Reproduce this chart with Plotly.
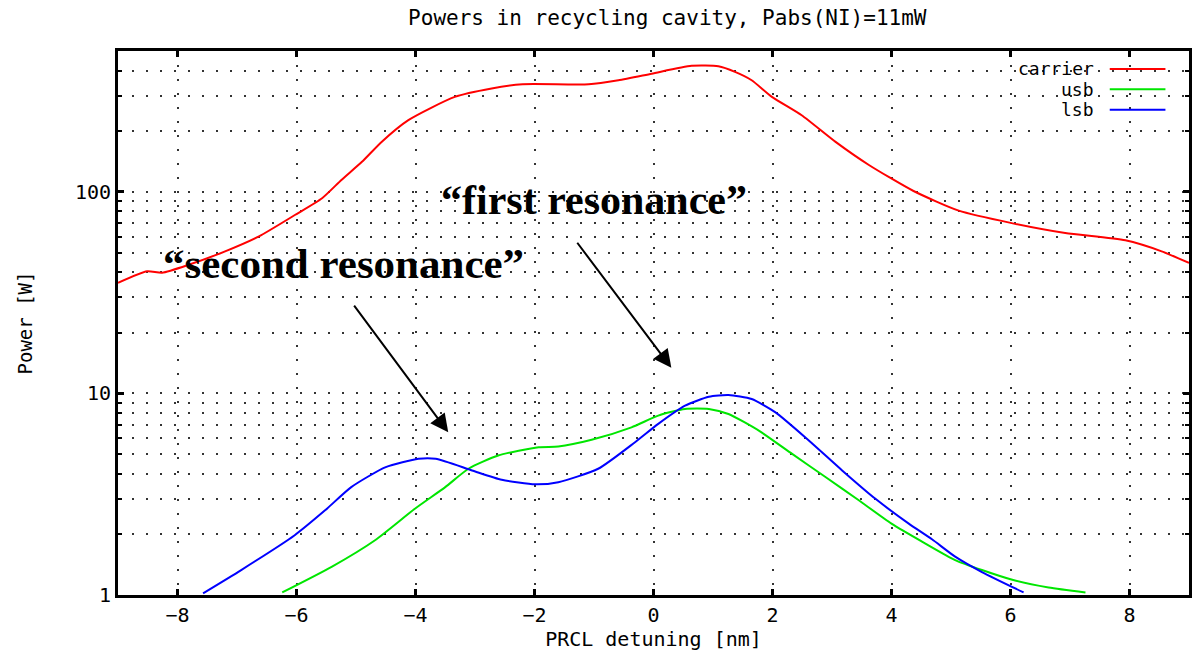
import math
import plotly.graph_objects as go

# PRCL detuning [nm] and circulating power [W] for each field
carrier_x = [-9.0, -8.51, -8.26, -7.8, -7.2, -6.63, -6.02, -5.57, -5.24, -4.9, -4.57, -4.12,
             -3.34, -2.72, -2.2, -1.09, -0.59, -0.03, 0.64, 1.09, 1.37, 1.65, 1.99, 2.49,
             3.06, 3.62, 4.37, 5.13, 6.02, 6.92, 7.93, 8.54, 9.0]
carrier_y = [35.4, 40.4, 39.7, 43.6, 50.7, 60.2, 77, 93, 115, 141, 177, 227,
             296, 326, 342, 342, 358, 386, 422, 420, 394, 358, 296, 240,
             177, 136, 101, 80.7, 70, 62.5, 57.5, 50.7, 44.4]

usb_x = [-6.24, -5.41, -4.68, -4.01, -3.5, -3.11, -2.61, -1.93, -1.6, -1.04, -0.37, 0.08,
         0.53, 0.93, 1.26, 1.77, 2.33, 2.89, 3.45, 4.0, 4.57, 5.07, 5.52, 6.03, 6.64, 7.26]
usb_y = [1.03, 1.38, 1.87, 2.68, 3.43, 4.23, 4.92, 5.41, 5.45, 5.89, 6.79, 7.76,
         8.38, 8.38, 7.91, 6.54, 5.01, 3.85, 2.95, 2.26, 1.80, 1.49, 1.33, 1.19, 1.09, 1.03]

lsb_x = [-7.57, -6.93, -6.03, -5.52, -5.08, -4.5, -3.95, -3.66, -3.05, -2.55, -1.99, -1.6,
         -0.93, -0.31, 0.08, 0.53, 0.93, 1.26, 1.65, 2.05, 2.61, 3.17, 3.73, 4.29,
         4.68, 5.07, 5.52, 6.22]
lsb_y = [1.02, 1.33, 1.98, 2.63, 3.43, 4.31, 4.74, 4.74, 4.15, 3.73, 3.54, 3.63,
         4.23, 5.73, 7.06, 8.69, 9.63, 9.82, 9.38, 8.05, 5.84, 4.15, 3.0, 2.26,
         1.89, 1.55, 1.30, 1.03]

series_names = ["carrier", "usb", "lsb"]
series_colors = ["#ff0000", "#00e600", "#0000ff"]

x_ticks = [-8, -6, -4, -2, 0, 2, 4, 6, 8]
y_ticks = [1, 10, 100]
y_minor = [2, 3, 4, 5, 6, 7, 8, 9, 20, 30, 40, 50, 60, 70, 80, 90, 200, 300, 400]

MONO = "DejaVu Sans Mono"
SERIF = "Liberation Serif"

fig = go.Figure()
for name, xs, ys, col in zip(series_names, [carrier_x, usb_x, lsb_x],
                             [carrier_y, usb_y, lsb_y], series_colors):
    fig.add_trace(go.Scatter(x=xs, y=ys, mode="lines", name=name,
                             line=dict(color=col, width=2, shape="spline", smoothing=0.6),
                             showlegend=False))

grid = dict(showgrid=True, gridcolor="#333", gridwidth=1.5, griddash="2px,12px")

fig.update_xaxes(range=[-9, 9], tickmode="array", tickvals=x_ticks,
                 ticks="inside", ticklen=6, tickwidth=3, tickcolor="black",
                 showline=True, linewidth=3, linecolor="black", mirror="ticks",
                 zeroline=False, tickfont=dict(family=MONO, size=20, color="black"),
                 title=dict(text="PRCL detuning [nm]", standoff=6,
                            font=dict(family=MONO, size=20, color="black")),
                 **grid)
fig.update_yaxes(type="log", range=[0, math.log10(500)], tickmode="array",
                 tickvals=y_ticks, ticktext=[str(v) for v in y_ticks],
                 ticks="inside", ticklen=6, tickwidth=3, tickcolor="black",
                 showline=True, linewidth=3, linecolor="black", mirror="ticks",
                 zeroline=False, tickfont=dict(family=MONO, size=20, color="black"),
                 minor=dict(tickmode="array", tickvals=y_minor, ticks="inside",
                            ticklen=4, tickwidth=2, tickcolor="black",
                            showgrid=True, gridcolor="#333", gridwidth=1.5,
                            griddash="2px,12px"),
                 title=dict(text="Power [W]", standoff=38,
                            font=dict(family=MONO, size=19, color="black")),
                 **grid)

# legend drawn gnuplot-style: right-aligned key text with the line sample to its right
for i, (name, col) in enumerate(zip(series_names, series_colors)):
    yk = 0.967 - i * 0.0375
    fig.add_annotation(xref="paper", yref="paper", x=0.913, y=yk, text=name,
                       showarrow=False, xanchor="right", yanchor="middle",
                       font=dict(family=MONO, size=18, color="black"))
    fig.add_shape(type="line", xref="paper", yref="paper", x0=0.926, x1=0.978,
                  y0=yk, y1=yk, line=dict(color=col, width=2))

# resonance labels with arrows
fig.add_annotation(x=-1.0, y=1.962, text="<b>\u201cfirst resonance\u201d</b>",
                   showarrow=False, font=dict(family=SERIF, size=42, color="black"))
fig.add_annotation(x=-5.21, y=1.646, text="<b>\u201csecond resonance\u201d</b>",
                   showarrow=False, font=dict(family=SERIF, size=43, color="black"))
for tip, tail in [((0.30, 1.127), (-1.30, 1.755)), ((-3.45, 0.807), (-5.05, 1.443))]:
    fig.add_annotation(x=tip[0], y=tip[1], ax=tail[0], ay=tail[1],
                       axref="x", ayref="y", text="", showarrow=True,
                       arrowhead=2, arrowsize=1.8, arrowwidth=2, arrowcolor="black")

fig.update_layout(
    width=1198, height=656,
    margin=dict(l=118, r=6, t=51, b=61),
    paper_bgcolor="white", plot_bgcolor="white",
    title=dict(text="Powers in recycling cavity, Pabs(NI)=11mW", x=0.557, xanchor="center",
               y=1 - 18 / 656, yref="container", yanchor="middle",
               font=dict(family=MONO, size=21, color="black")),
)

fig.write_html("out.html")
